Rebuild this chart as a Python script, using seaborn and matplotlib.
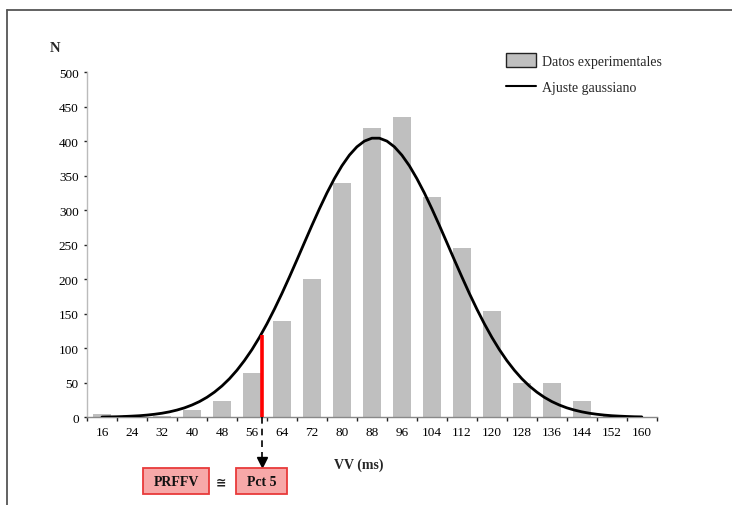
import numpy as np
import pandas as pd
import seaborn as sns
import matplotlib
matplotlib.use("Agg")
import matplotlib.pyplot as plt
from matplotlib.patches import Patch, Rectangle
from matplotlib.lines import Line2D

# ---- data ----
vv_ms = [16, 24, 32, 40, 48, 56, 64, 72, 80, 88, 96, 104, 112, 120, 128, 136, 144, 152, 160]
counts = [5, 3, 2, 10, 24, 64, 139, 200, 340, 419, 435, 320, 245, 154, 49, 50, 23, 3, 0]

# gaussian fit curve, read every 2 ms
fit_vv = list(range(16, 161, 2))
fit_n = [0.4, 0.6, 0.8, 1.2, 1.7, 2.3, 3.2, 4.4, 5.9, 7.9, 10.5, 13.7, 17.8, 22.8, 29.0,
         36.5, 45.4, 55.9, 68.2, 82.3, 98.1, 115.9, 135.5, 156.8, 179.5, 203.4, 228.1,
         253.2, 278.1, 302.2, 325.1, 346.0, 364.5, 380.0, 392.0, 400.3, 404.5, 404.5,
         400.3, 392.0, 379.9, 364.5, 345.9, 325.1, 302.2, 278.1, 253.2, 228.1, 203.5,
         179.5, 156.8, 135.5, 115.9, 98.1, 82.2, 68.2, 55.9, 45.4, 36.5, 29.0, 22.8,
         17.8, 13.7, 10.5, 7.9, 5.9, 4.4, 3.2, 2.3, 1.7, 1.2, 0.8, 0.6]

pct5_vv = 58.7
pct5_n = 119

y_ticks = [0, 50, 100, 150, 200, 250, 300, 350, 400, 450, 500]
legend_labels = ["Datos experimentales", "Ajuste gaussiano"]

bars_df = pd.DataFrame({"VV": vv_ms, "N": counts})
fit_df = pd.DataFrame({"VV": fit_vv, "N": fit_n})

# ---- styling ----
sns.set_style("white")
plt.rcParams["font.family"] = ["Liberation Serif", "DejaVu Serif"]

W, H = 732, 506
fig = plt.figure(figsize=(W / 100, H / 100), dpi=100)
ax = fig.add_axes([87 / W, (H - 418.3) / H, (656.8 - 87) / W, 345 / H])

def fx(px):
    return px / W

def fy(py):
    return 1 - py / H

bar_color = "#BFBFBF"
sns.barplot(data=bars_df, x="VV", y="N", native_scale=True, width=0.6,
            color=bar_color, saturation=1, edgecolor="none", ax=ax, zorder=2)
sns.lineplot(data=fit_df, x="VV", y="N", color="black", lw=2.0, ax=ax, zorder=3)
ax.vlines(pct5_vv, 0, pct5_n, color="#FF0000", lw=2.6, zorder=4)

ax.set_xlim(12, 164)
ax.set_ylim(0, 500)
ax.set_xticks(vv_ms)
ax.set_xticklabels([str(v) for v in vv_ms])
ax.set_xticks(np.arange(12, 165, 8), minor=True)
ax.set_yticks(y_ticks)
ax.set_xlabel("")
ax.set_ylabel("")

for s in ["top", "right"]:
    ax.spines[s].set_visible(False)
ax.spines["left"].set_color("#BBBBBB")
ax.spines["left"].set_linewidth(1.0)
ax.spines["bottom"].set_color("#888888")
ax.spines["bottom"].set_linewidth(1.0)

ax.tick_params(axis="x", which="major", length=0, pad=6.5, labelsize=9.5, labelcolor="#000000")
ax.tick_params(axis="x", which="minor", length=3, width=1, color="#222222", direction="out",
               bottom=True)
ax.tick_params(axis="y", which="major", length=2.5, width=1, color="#222222", pad=3.5,
               labelsize=9.5, labelcolor="#000000", left=True)

# axis titles
fig.text(fx(55), fy(48), "N", ha="center", va="center", fontsize=10.5, fontweight="bold")
fig.text(fx(359), fy(465), "VV (ms)", ha="center", va="center", fontsize=10, fontweight="bold")

# legend
handles = [Patch(facecolor=bar_color, edgecolor="#222222", linewidth=1.0),
           Line2D([0], [0], color="black", lw=1.5)]
leg = fig.legend(handles, legend_labels, loc="upper left", bbox_to_anchor=(fx(506), fy(54)),
                 frameon=False, fontsize=10, handlelength=2.15, handleheight=1.2,
                 handletextpad=0.42, labelspacing=0.85, borderpad=0, borderaxespad=0)

# dashed arrow from percentile line to the boxes
trans = matplotlib.transforms.blended_transform_factory(ax.transData, ax.transAxes)
y_tip = -(466.5 - 418.3) / 345
ax.plot([pct5_vv, pct5_vv], [0, y_tip + 0.012], transform=trans, color="black", lw=1.2,
        ls=(0, (4, 3)), clip_on=False, zorder=5)
ax.plot([pct5_vv], [y_tip + 0.009], transform=trans, marker="v", ms=6.5, color="black",
        clip_on=False, zorder=5, ls="none")

# annotation boxes
box_face = "#F7A8A8"
box_edge = "#E83A3A"
for (x0, x1, label) in [(143.3, 209.0, "PRFFV"), (235.7, 287.3, "Pct 5")]:
    fig.add_artist(Rectangle((fx(x0), fy(495)), fx(x1) - fx(x0), fy(469.3) - fy(495),
                             transform=fig.transFigure, facecolor=box_face,
                             edgecolor=box_edge, lw=1.3))
    fig.text(fx((x0 + x1) / 2), fy(482.5), label, ha="center", va="center",
             fontsize=10, fontweight="bold", color="#111111")
fig.text(fx(221), fy(482.5), "\u2245", ha="center", va="center", fontsize=9,
         fontweight="bold", color="#222222", family=["DejaVu Sans"])

# outer frame (only top and left visible in the reference crop)
fig.add_artist(Line2D([fx(7.5), 1.0], [fy(10.5), fy(10.5)], transform=fig.transFigure,
                      color="#555555", lw=1.3))
fig.add_artist(Line2D([fx(7.5), fx(7.5)], [fy(10.5), 0.0], transform=fig.transFigure,
                      color="#555555", lw=1.3))

fig.savefig("out.png", dpi=100)
